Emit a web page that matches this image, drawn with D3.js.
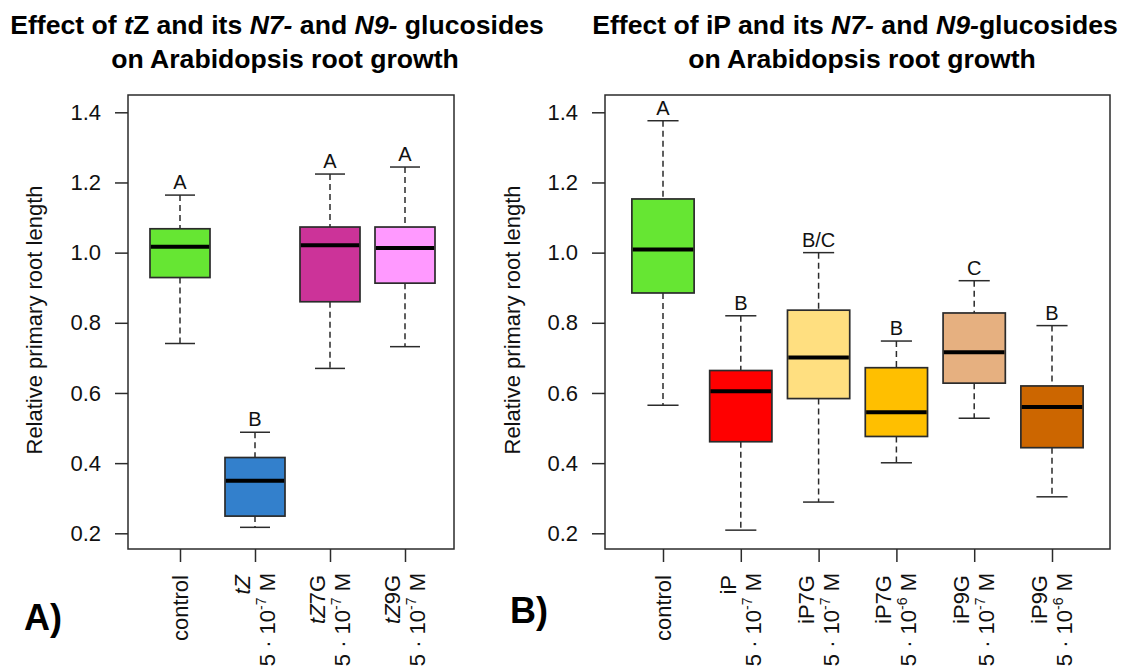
<!DOCTYPE html>
<html>
<head>
<meta charset="utf-8">
<script src="https://cdn.jsdelivr.net/npm/d3@7"></script>
<style>
  html, body { margin: 0; padding: 0; background: #ffffff; }
  svg { display: block; font-family: "Liberation Sans", Arial, sans-serif; }
</style>
</head>
<body>
<svg id="chart" width="1126" height="670"></svg>
<script>
// ---------- data: panel A (tZ) ----------
const tzCategories   = ["control", "tZ", "tZ7G", "tZ9G"];
const tzNameItalic   = ["", "tZ", "tZ", "tZ"];
const tzNameRest     = ["control", "", "7G", "9G"];
const tzExponent     = [null, "-7", "-7", "-7"];
const tzUpperWhisker = [1.164, 0.488, 1.224, 1.244];
const tzQ3           = [1.068, 0.416, 1.073, 1.073];
const tzMedian       = [1.017, 0.350, 1.021, 1.013];
const tzQ1           = [0.929, 0.249, 0.860, 0.913];
const tzLowerWhisker = [0.741, 0.217, 0.670, 0.732];
const tzLetters      = ["A", "B", "A", "A"];
const tzColors       = ["#66E633", "#3380CC", "#CC3399", "#FF99FF"];

// ---------- data: panel B (iP) ----------
const ipCategories   = ["control", "iP_7", "iP7G_7", "iP7G_6", "iP9G_7", "iP9G_6"];
const ipNameItalic   = ["", "", "", "", "", ""];
const ipNameRest     = ["control", "iP", "iP7G", "iP7G", "iP9G", "iP9G"];
const ipExponent     = [null, "-7", "-7", "-6", "-7", "-6"];
const ipUpperWhisker = [1.376, 0.820, 1.000, 0.748, 0.920, 0.792];
const ipQ3           = [1.153, 0.664, 0.836, 0.672, 0.828, 0.620];
const ipMedian       = [1.009, 0.605, 0.701, 0.545, 0.716, 0.560];
const ipQ1           = [0.885, 0.461, 0.584, 0.476, 0.628, 0.444];
const ipLowerWhisker = [0.565, 0.209, 0.289, 0.401, 0.528, 0.304];
const ipLetters      = ["A", "B", "B/C", "B", "C", "B"];
const ipColors       = ["#66E633", "#FF0000", "#FFDF80", "#FFBF00", "#E6B080", "#CC6600"];

const yTicks = [0.2, 0.4, 0.6, 0.8, 1.0, 1.2, 1.4];
const yAxisTitle = "Relative primary root length";

const svg = d3.select("#chart");
const ink = "#2b2b2b";

function drawPanel(p) {
  const g = svg.append("g");
  const y = d3.scaleLinear().domain([0.2, 1.4]).range([533.3, 112.3]);
  const x = d3.scalePoint().domain(p.categories).range(p.tickRange);
  const step = x.step();
  const boxW = step * 0.8;
  const capW = step * 0.4;

  const rows = p.categories.map((c, i) => ({
    key: c, hi: p.upper[i], q3: p.q3[i], med: p.median[i], q1: p.q1[i], lo: p.lower[i],
    letter: p.letters[i], color: p.colors[i],
    ital: p.nameItalic[i], rest: p.nameRest[i], exp: p.exponent[i]
  }));

  // whiskers (dashed)
  const bx = g.selectAll("g.box").data(rows).join("g").attr("class", "box");
  bx.append("line")
    .attr("x1", d => x(d.key)).attr("x2", d => x(d.key))
    .attr("y1", d => y(d.hi)).attr("y2", d => y(d.q3))
    .attr("stroke", ink).attr("stroke-width", 1.5).attr("stroke-dasharray", "6,4");
  bx.append("line")
    .attr("x1", d => x(d.key)).attr("x2", d => x(d.key))
    .attr("y1", d => y(d.q1)).attr("y2", d => y(d.lo))
    .attr("stroke", ink).attr("stroke-width", 1.5).attr("stroke-dasharray", "6,4");
  // caps
  bx.append("line")
    .attr("x1", d => x(d.key) - capW / 2).attr("x2", d => x(d.key) + capW / 2)
    .attr("y1", d => y(d.hi)).attr("y2", d => y(d.hi))
    .attr("stroke", ink).attr("stroke-width", 1.5);
  bx.append("line")
    .attr("x1", d => x(d.key) - capW / 2).attr("x2", d => x(d.key) + capW / 2)
    .attr("y1", d => y(d.lo)).attr("y2", d => y(d.lo))
    .attr("stroke", ink).attr("stroke-width", 1.5);
  // boxes
  bx.append("rect")
    .attr("x", d => x(d.key) - boxW / 2).attr("width", boxW)
    .attr("y", d => y(d.q3)).attr("height", d => y(d.q1) - y(d.q3))
    .attr("fill", d => d.color).attr("stroke", ink).attr("stroke-width", 1.7);
  // medians
  bx.append("line")
    .attr("x1", d => x(d.key) - boxW / 2 + 0.85).attr("x2", d => x(d.key) + boxW / 2 - 0.85)
    .attr("y1", d => y(d.med)).attr("y2", d => y(d.med))
    .attr("stroke", "#000").attr("stroke-width", 4);
  // letters
  bx.append("text")
    .attr("x", d => x(d.key)).attr("y", d => y(d.hi) - 6)
    .attr("text-anchor", "middle").attr("font-size", 20).attr("fill", "#111")
    .text(d => d.letter);

  // frame
  g.append("rect")
    .attr("x", p.frame[0]).attr("y", 95)
    .attr("width", p.frame[1] - p.frame[0]).attr("height", 549 - 95)
    .attr("fill", "none").attr("stroke", ink).attr("stroke-width", 1.5);

  // y axis
  const ya = g.append("g").attr("transform", `translate(${p.frame[0]},0)`)
    .call(d3.axisLeft(y).tickValues(yTicks).tickFormat(d3.format(".1f")).tickSize(13).tickPadding(14));
  ya.select(".domain").remove();
  ya.selectAll(".tick line").attr("stroke", ink).attr("stroke-width", 1.5);
  ya.selectAll(".tick text").attr("font-size", 22).attr("fill", "#111")
    .attr("font-family", "Liberation Sans, Arial, sans-serif");

  // x axis ticks
  const xa = g.append("g").attr("transform", "translate(0,549)")
    .call(d3.axisBottom(x).tickSize(13).tickFormat(""));
  xa.select(".domain").remove();
  xa.selectAll(".tick line").attr("stroke", ink).attr("stroke-width", 1.5);

  // x labels (rotated)
  const lab = g.selectAll("g.xlab").data(rows).join("g").attr("class", "xlab");
  lab.each(function (d) {
    const sel = d3.select(this);
    const cx = x(d.key);
    const endY = 575;
    if (d.exp === null) {
      sel.append("text")
        .attr("transform", `translate(${cx + 7.5},${endY}) rotate(-90)`)
        .attr("text-anchor", "end").attr("font-size", 22).attr("fill", "#111")
        .text(d.rest);
    } else {
      const t1 = sel.append("text")
        .attr("transform", `translate(${cx - 5},${endY}) rotate(-90)`)
        .attr("text-anchor", "end").attr("font-size", 22).attr("fill", "#111");
      if (d.ital) t1.append("tspan").attr("font-style", "italic").text(d.ital);
      if (d.rest) t1.append("tspan").text(d.rest);
      const t2 = sel.append("text")
        .attr("transform", `translate(${cx + 20},${endY - 2}) rotate(-90)`)
        .attr("text-anchor", "end").attr("font-size", 22).attr("fill", "#111");
      t2.append("tspan").text("5 \u00B7 10");
      t2.append("tspan").attr("font-size", 14).attr("dy", -9).text(d.exp);
      t2.append("tspan").attr("dy", 9).text("\u00A0M");
    }
  });

  // y axis title
  g.append("text")
    .attr("transform", `translate(${p.yTitleX},${320}) rotate(-90)`)
    .attr("text-anchor", "middle").attr("font-size", 22).attr("fill", "#111")
    .text(yAxisTitle);

  // title
  const t = g.append("g").attr("font-weight", "bold").attr("font-size", 26.6).attr("fill", "#000");
  const l1 = t.append("text").attr("x", p.titleX1).attr("y", 34).attr("text-anchor", "middle");
  p.title1.forEach(part => {
    const ts = l1.append("tspan").text(part.t);
    if (part.i) ts.attr("font-style", "italic");
  });
  t.append("text").attr("x", p.titleX2).attr("y", 68).attr("text-anchor", "middle")
    .text("on Arabidopsis root growth");

  // panel letter
  svg.append("text").attr("x", p.panelPos[0]).attr("y", p.panelPos[1])
    .attr("font-size", 36).attr("font-weight", "bold").attr("fill", "#000")
    .text(p.panelLabel);
}

drawPanel({
  categories: tzCategories, nameItalic: tzNameItalic, nameRest: tzNameRest, exponent: tzExponent,
  upper: tzUpperWhisker, q3: tzQ3, median: tzMedian, q1: tzQ1, lower: tzLowerWhisker,
  letters: tzLetters, colors: tzColors,
  tickRange: [180, 405], frame: [128, 454], yTitleX: 42,
  title1: [{t: "Effect of "}, {t: "t", i: true}, {t: "Z and its "}, {t: "N7-", i: true},
           {t: " and "}, {t: "N9-", i: true}, {t: " glucosides"}],
  titleX1: 277, titleX2: 285, panelLabel: "A)", panelPos: [24, 630]
});

drawPanel({
  categories: ipCategories, nameItalic: ipNameItalic, nameRest: ipNameRest, exponent: ipExponent,
  upper: ipUpperWhisker, q3: ipQ3, median: ipMedian, q1: ipQ1, lower: ipLowerWhisker,
  letters: ipLetters, colors: ipColors,
  tickRange: [663, 1052], frame: [605, 1110], yTitleX: 520,
  title1: [{t: "Effect of iP and its "}, {t: "N7-", i: true},
           {t: " and "}, {t: "N9-", i: true}, {t: "glucosides"}],
  titleX1: 855, titleX2: 862, panelLabel: "B)", panelPos: [510, 623]
});
</script>
</body>
</html>
